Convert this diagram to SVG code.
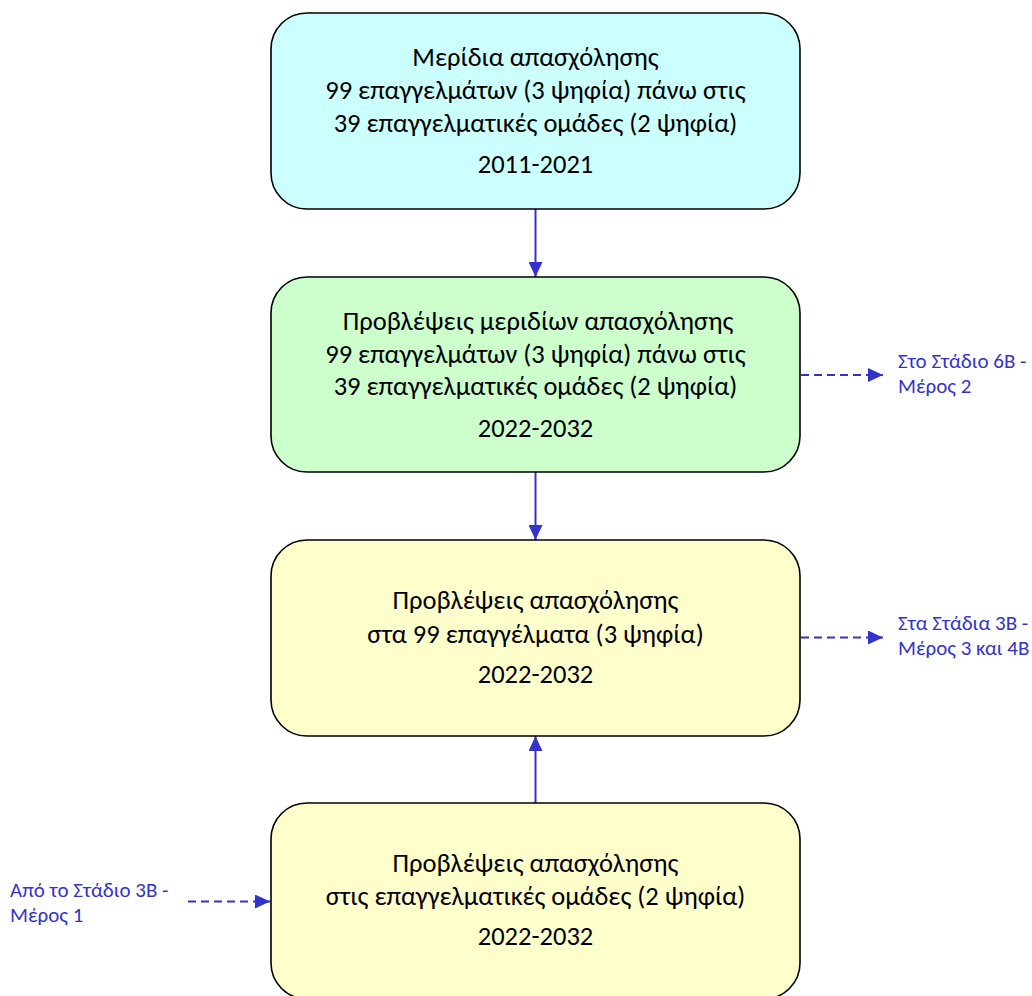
<svg xmlns="http://www.w3.org/2000/svg" width="1032" height="996" viewBox="0 0 1032 996">
<defs>
<style>
.box{stroke:#000;stroke-width:1.6}
.t{font-family:Carlito,"Liberation Sans",sans-serif;font-size:26.5px;fill:#000;text-anchor:middle}
.s{font-family:Carlito,"Liberation Sans",sans-serif;font-size:21px;fill:#3333CC}
.c{stroke:#3333CC;stroke-width:2;fill:none}
.d{stroke-dasharray:8 5}
</style>
<marker id="ah" viewBox="0 0 15 14" refX="15" refY="7" markerWidth="15" markerHeight="14" markerUnits="userSpaceOnUse" orient="auto">
<path d="M0,0 L15,7 L0,14 Z" fill="#3333CC"/>
</marker>
</defs>
<rect width="1032" height="996" fill="#fff"/>
<g id="connectors">
<line class="c" x1="535.5" y1="209" x2="535.5" y2="277" marker-end="url(#ah)"/>
<line class="c" x1="535.5" y1="472" x2="535.5" y2="540" marker-end="url(#ah)"/>
<line class="c" x1="535.5" y1="803" x2="535.5" y2="736" marker-end="url(#ah)"/>
<line class="c d" x1="801" y1="375" x2="883" y2="375" marker-end="url(#ah)"/>
<line class="c d" x1="801" y1="637.5" x2="883" y2="637.5" marker-end="url(#ah)"/>
<line class="c d" x1="188" y1="901.5" x2="270" y2="901.5" marker-end="url(#ah)"/>
</g>
<g id="n1">
<rect class="box" x="271" y="13" width="529" height="196" rx="36" fill="#CCFFFF"/>
<text class="t" x="535.5" y="66">Μερίδια απασχόλησης</text>
<text class="t" x="535.5" y="99">99 επαγγελμάτων (3 ψηφία) πάνω στις</text>
<text class="t" x="535.5" y="132">39 επαγγελματικές ομάδες (2 ψηφία)</text>
<text class="t" x="535.5" y="173">2011-2021</text>
</g>
<g id="n2">
<rect class="box" x="271" y="277" width="529" height="195" rx="36" fill="#CCFFCC"/>
<text class="t" x="538" y="330">Προβλέψεις μεριδίων απασχόλησης</text>
<text class="t" x="535.5" y="363">99 επαγγελμάτων (3 ψηφία) πάνω στις</text>
<text class="t" x="535.5" y="395">39 επαγγελματικές ομάδες (2 ψηφία)</text>
<text class="t" x="535.5" y="437">2022-2032</text>
</g>
<g id="n3">
<rect class="box" x="271" y="540" width="529" height="196" rx="36" fill="#FFFFCC"/>
<text class="t" x="535.5" y="609">Προβλέψεις απασχόλησης</text>
<text class="t" x="535.5" y="643">στα 99 επαγγέλματα (3 ψηφία)</text>
<text class="t" x="535.5" y="683">2022-2032</text>
</g>
<g id="n4">
<rect class="box" x="271" y="803" width="529" height="196" rx="36" fill="#FFFFCC"/>
<text class="t" x="535.5" y="872">Προβλέψεις απασχόλησης</text>
<text class="t" x="535.5" y="905">στις επαγγελματικές ομάδες (2 ψηφία)</text>
<text class="t" x="535.5" y="945">2022-2032</text>
</g>
<g id="l1">
<text class="s" x="898" y="368">Στο Στάδιο 6Β -</text>
<text class="s" x="898" y="393">Μέρος 2</text>
</g>
<g id="l2">
<text class="s" x="898" y="630">Στα Στάδια 3Β -</text>
<text class="s" x="898" y="655">Μέρος 3 και 4Β</text>
</g>
<g id="l3">
<text class="s" x="10" y="897">Από το Στάδιο 3Β -</text>
<text class="s" x="10" y="922">Μέρος 1</text>
</g>
</svg>
